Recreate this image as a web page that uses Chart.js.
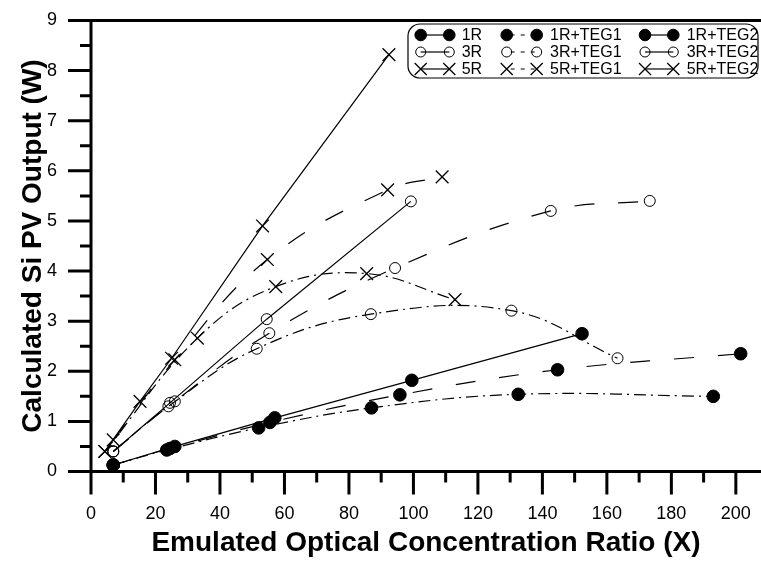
<!DOCTYPE html>
<html>
<head>
<meta charset="utf-8">
<title>Si PV output vs concentration ratio</title>
<script src="https://cdn.jsdelivr.net/npm/chart.js@4.4.1/dist/chart.umd.min.js"></script>
<style>
  html, body { margin: 0; padding: 0; background: #fff; }
  #wrap { width: 761px; height: 563px; }
</style>
</head>
<body>
<div id="wrap"><canvas id="chart" width="761" height="563"></canvas></div>
<script>
"use strict";

/* ============================================================
   DATA  (x = concentration ratio, y = PV output in W)
============================================================ */
const x1R     = [6.9, 26.0, 57.0, 99.5, 152.3];
const y1R     = [0.13, 0.50, 1.07, 1.82, 2.75];
const x1RTEG1 = [6.9, 24.5, 55.5, 95.8, 144.7, 201.5];
const y1RTEG1 = [0.13, 0.46, 0.98, 1.53, 2.03, 2.35];
const x1RTEG2 = [6.9, 23.5, 52.0, 87.0, 132.5, 193.0];
const y1RTEG2 = [0.13, 0.43, 0.87, 1.27, 1.54, 1.50];

const x3R     = [6.9, 24.5, 54.5, 99.2];
const y3R     = [0.40, 1.37, 3.04, 5.39];
const x3RTEG1 = [6.9, 26.0, 55.3, 94.3, 142.6, 173.3];
const y3RTEG1 = [0.40, 1.40, 2.76, 4.06, 5.20, 5.40];
const x3RTEG2 = [6.9, 24.0, 51.4, 86.8, 130.4, 163.3];
const y3RTEG2 = [0.40, 1.30, 2.45, 3.14, 3.21, 2.26];

const x5R     = [4.3, 15.2, 25.0, 53.2, 92.4];
const y5R     = [0.40, 1.40, 2.26, 4.90, 8.32];
const x5RTEG1 = [6.9, 26.0, 54.7, 92.0, 108.9];
const y5RTEG1 = [0.63, 2.23, 4.23, 5.62, 5.88];
const x5RTEG2 = [4.3, 33.0, 57.3, 85.5, 112.9];
const y5RTEG2 = [0.40, 2.66, 3.69, 3.95, 3.43];

const xTicks = [0, 20, 40, 60, 80, 100, 120, 140, 160, 180, 200];
const yTicks = [0, 1, 2, 3, 4, 5, 6, 7, 8, 9];

/* ============================================================
   STYLE HELPERS
============================================================ */
const FONT = "'Liberation Sans', Arial, Helvetica, sans-serif";
const DASH = [20, 24];
const DASH_DOT = [12, 5, 2, 5];

const MARKERS = {
  filled: { pointStyle: 'circle', pointRadius: 6.3, pointBackgroundColor: '#000', pointBorderWidth: 1 },
  open:   { pointStyle: 'circle', pointRadius: 5.5, pointBackgroundColor: 'rgba(0,0,0,0)', pointBorderWidth: 1 },
  cross:  { pointStyle: 'crossRot', pointRadius: 9, pointBackgroundColor: 'rgba(0,0,0,0)', pointBorderWidth: 1.3 }
};

function pairs(xs, ys) {
  return xs.map((x, i) => ({ x: x, y: ys[i] }));
}

function series(label, xs, ys, marker, kind) {
  const dash = kind === 'teg1' ? DASH : kind === 'teg2' ? DASH_DOT : [];
  return Object.assign({
    label: label,
    data: pairs(xs, ys),
    borderColor: '#000',
    pointBorderColor: '#000',
    borderWidth: 1.2,
    borderDash: dash,
    tension: kind === 'base' ? 0 : 0.4,
    fill: false,
    clip: 12,
    kind: kind
  }, MARKERS[marker]);
}

const datasets = [
  series('1R',      x1R,     y1R,     'filled', 'base'),
  series('1R+TEG1', x1RTEG1, y1RTEG1, 'filled', 'teg1'),
  series('1R+TEG2', x1RTEG2, y1RTEG2, 'filled', 'teg2'),
  series('3R',      x3R,     y3R,     'open',   'base'),
  series('3R+TEG1', x3RTEG1, y3RTEG1, 'open',   'teg1'),
  series('3R+TEG2', x3RTEG2, y3RTEG2, 'open',   'teg2'),
  series('5R',      x5R,     y5R,     'cross',  'base'),
  series('5R+TEG1', x5RTEG1, y5RTEG1, 'cross',  'teg1'),
  series('5R+TEG2', x5RTEG2, y5RTEG2, 'cross',  'teg2')
];

/* ============================================================
   PLUGINS: axis frame with outward ticks, boxed legend
============================================================ */
const axesPlugin = {
  id: 'axesFrame',
  beforeDatasetsDraw(chart) {
    const { ctx, chartArea: a, scales: { x, y } } = chart;
    ctx.save();
    ctx.strokeStyle = '#000';
    ctx.lineWidth = 3;
    ctx.beginPath();
    ctx.moveTo(a.left, a.top);   ctx.lineTo(a.left, a.bottom);
    ctx.moveTo(a.left - 1.5, a.bottom); ctx.lineTo(a.right, a.bottom);
    ctx.moveTo(a.left - 1.5, a.top);    ctx.lineTo(a.right, a.top);

    // y ticks: major on integers, minor halfway
    for (let i = 0; i < yTicks.length; i++) {
      const py = y.getPixelForValue(yTicks[i]);
      ctx.moveTo(a.left - 23, py); ctx.lineTo(a.left, py);
      if (i < yTicks.length - 1) {
        const pm = y.getPixelForValue((yTicks[i] + yTicks[i + 1]) / 2);
        ctx.moveTo(a.left - 11, pm); ctx.lineTo(a.left, pm);
      }
    }
    // x ticks: major every 20, minor between
    for (let i = 0; i < xTicks.length; i++) {
      const px = x.getPixelForValue(xTicks[i]);
      ctx.moveTo(px, a.bottom); ctx.lineTo(px, a.bottom + 23);
      if (i < xTicks.length - 1) {
        const pm = x.getPixelForValue((xTicks[i] + xTicks[i + 1]) / 2);
        ctx.moveTo(pm, a.bottom); ctx.lineTo(pm, a.bottom + 11);
      }
    }
    ctx.stroke();
    ctx.restore();
  }
};

const legendPlugin = {
  id: 'boxLegend',
  afterDraw(chart) {
    const ctx = chart.ctx;
    const box = { left: 408, top: 24, right: 758, bottom: 78, r: 12 };
    const rows = [35, 52, 69];
    const cols = [
      { m1: 420.7, m2: 449.3, t: 461.7 },
      { m1: 506.7, m2: 536.7, t: 550 },
      { m1: 645,   m2: 673.3, t: 686.7 }
    ];
    ctx.save();
    ctx.fillStyle = '#fff';
    ctx.strokeStyle = '#000';
    ctx.lineWidth = 1.2;
    ctx.beginPath();
    ctx.roundRect(box.left, box.top, box.right - box.left, box.bottom - box.top, box.r);
    ctx.fill();
    ctx.stroke();

    ctx.font = '16px ' + FONT;
    ctx.textBaseline = 'middle';
    ctx.textAlign = 'left';
    chart.data.datasets.forEach((ds, i) => {
      const c = cols[i % 3];
      const yy = rows[Math.floor(i / 3)];
      ctx.strokeStyle = '#000';
      ctx.lineWidth = 1.2;
      ctx.setLineDash(ds.kind === 'teg1' ? [4, 6] : []);
      ctx.lineDashOffset = ds.kind === 'teg1' ? -4 : 0;
      ctx.beginPath();
      ctx.moveTo(c.m1, yy);
      ctx.lineTo(c.m2, yy);
      ctx.stroke();
      ctx.setLineDash([]);
      ctx.fillStyle = ds.pointBackgroundColor;
      ctx.strokeStyle = '#000';
      ctx.lineWidth = ds.pointBorderWidth;
      const opts = { pointStyle: ds.pointStyle, radius: ds.pointRadius - 0.5, rotation: 0, borderWidth: ds.pointBorderWidth };
      Chart.helpers.drawPoint(ctx, opts, c.m1, yy);
      Chart.helpers.drawPoint(ctx, opts, c.m2, yy);
      ctx.fillStyle = '#000';
      ctx.fillText(ds.label, c.t, yy + 1);
    });
    ctx.restore();
  }
};

// fixed box sizes and no extra label padding, so the plot area lands where it should
function fixBox(size) {
  return function (scale) {
    if (scale.isHorizontal()) scale.height = size; else scale.width = size;
    scale.paddingTop = 0;
    scale.paddingBottom = 0;
    scale.paddingLeft = 0;
    scale.paddingRight = 0;
  };
}

/* ============================================================
   CHART
============================================================ */
new Chart(document.getElementById('chart').getContext('2d'), {
  type: 'line',
  data: { datasets: datasets },
  plugins: [axesPlugin, legendPlugin],
  options: {
    responsive: false,
    animation: false,
    devicePixelRatio: 1,
    layout: { padding: { top: 20.5, right: 0, bottom: 0, left: 0 }, autoPadding: false },
    plugins: { legend: { display: false }, tooltip: { enabled: false } },
    elements: { line: { borderCapStyle: 'butt' } },
    scales: {
      x: {
        type: 'linear',
        min: 0,
        max: 207.8,
        afterBuildTicks(scale) { scale.ticks = xTicks.map(v => ({ value: v })); },
        afterFit: fixBox(91.5),
        grid: { display: false, drawTicks: false },
        border: { display: false },
        ticks: { color: '#000', padding: 32, maxRotation: 0, font: { family: FONT, size: 18 } },
        title: {
          display: true,
          text: 'Emulated Optical Concentration Ratio (X)',
          color: '#000',
          padding: { top: 0, bottom: 3 },
          font: { family: FONT, size: 28, weight: 'bold' }
        }
      },
      y: {
        type: 'linear',
        min: 0,
        max: 9,
        afterBuildTicks(scale) { scale.ticks = yTicks.map(v => ({ value: v })); },
        afterFit: fixBox(91),
        grid: { display: false, drawTicks: false },
        border: { display: false },
        ticks: { color: '#000', padding: 34, font: { family: FONT, size: 18 } },
        title: {
          display: true,
          text: 'Calculated Si PV Output (W)',
          color: '#000',
          padding: { top: 16, bottom: 0 },
          font: { family: FONT, size: 28, weight: 'bold' }
        }
      }
    }
  }
});
</script>
</body>
</html>
